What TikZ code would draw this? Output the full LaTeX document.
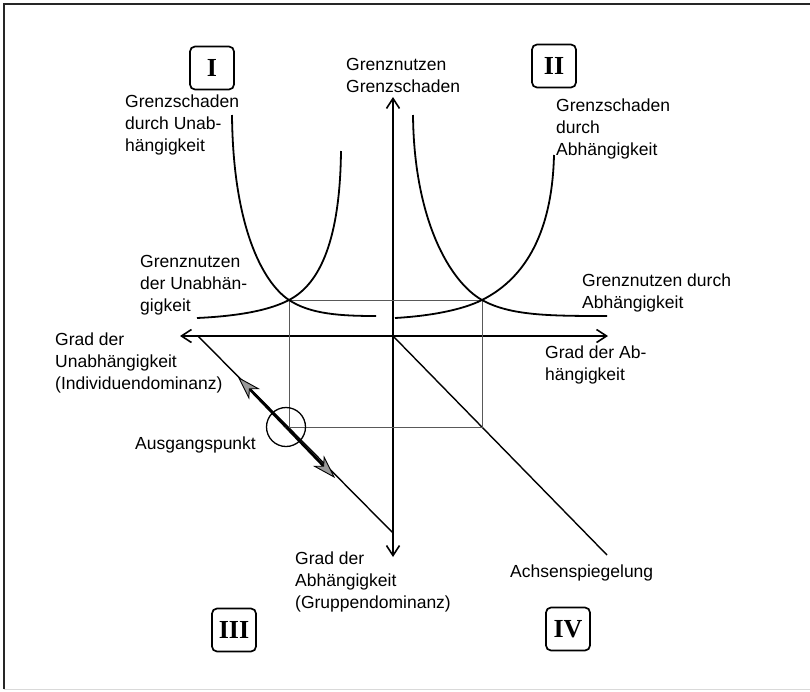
\documentclass[tikz,border=0pt]{standalone}
\usepackage{fontspec}
\setmainfont{Liberation Sans}
\newfontfamily\romfont{Liberation Serif}
\usetikzlibrary{arrows.meta}
\begin{document}
\begin{tikzpicture}[x=1pt,y=-1pt,
  lbl/.style={anchor=north west,inner sep=0pt,align=left,font=\fontsize{17.5}{21.8}\selectfont},
  quad/.style={draw,line width=1.7pt,rounded corners=5pt,minimum width=44pt,minimum height=43pt,inner sep=0pt,font=\romfont\bfseries\fontsize{26}{26}\selectfont},
  curve/.style={line width=1.8pt},
  axis/.style={line width=1.6pt,{Straight Barb[length=10pt,width=13pt]}-{Straight Barb[length=10pt,width=13pt]}},
  diag/.style={line width=1.4pt},
  guide/.style={line width=0.6pt,black!65},
  move/.style={line width=2.6pt,-{Stealth[length=24pt,width=15pt,inset=7pt,fill=black!40,line width=0.9pt]}},
  ring/.style={circle,draw,line width=1.3pt,minimum size=39pt,inner sep=0pt}
]
\useasboundingbox (0,0) rectangle (810,691);
% frame
\draw[line width=1.4pt,black!85] (4,689) -- (4,4) -- (810,4);
\draw[line width=1pt,black!15] (4,689) -- (810,689);

% axes
\coordinate (O) at (393,336);
\coordinate (XL) at (180,336);
\coordinate (XR) at (608,336);
\coordinate (YT) at (393,97);
\coordinate (YB) at (393,557);
\draw[axis] (XL) -- (XR);
\draw[axis] (YT) -- (YB);

% diagonals
\coordinate (DL1) at (198,336);
\coordinate (DL2) at (393,533);
\coordinate (DR2) at (607,555);
\draw[diag] (DL1) -- (DL2);
\draw[diag] (O) -- (DR2);

% guide rectangle
\coordinate (P1) at (289,300);
\coordinate (P2) at (482,300);
\coordinate (Q1) at (289,427);
\coordinate (Q2) at (482,427);
\draw[guide] (P1) -- (P2) -- (Q2) -- (Q1) -- cycle;

% curves quadrant I
\draw[curve] (232,115) .. controls (233,225) and (262,282) .. (P1)
             .. controls (310,314) and (340,316) .. (376,316);
\draw[curve] (197,318) .. controls (240,316) and (270,310) .. (P1)
             .. controls (320,284) and (340,240) .. (341,151);
% curves quadrant II
\draw[curve] (413,115) .. controls (414,220) and (450,282) .. (P2)
             .. controls (510,315.7) and (550,316) .. (607,316);
\draw[curve] (395,318) .. controls (430,316) and (462,310) .. (P2)
             .. controls (520,281) and (552,240) .. (554,155);

% starting point
\node[ring] (start) at (286,427) {};
\coordinate (TU) at (238,377);
\coordinate (TD) at (335,478);
\draw[move] (start.center) -- (TU);
\draw[move] (start.center) -- (TD);

% quadrant labels
\node[quad] (qI) at (212,68) {I};
\node[quad] (qII) at (554,66) {II};
\node[quad] (qIII) at (234,630) {III};
\node[quad] (qIV) at (568,629) {IV};

% texts
\node[lbl] (gsu) at (125,95) {Grenzschaden\\durch Unab-\\hängigkeit};
\node[lbl] (yl) at (346,58) {Grenznutzen\\Grenzschaden};
\node[lbl] (gsa) at (556,99) {Grenzschaden\\durch\\Abhängigkeit};
\node[lbl] (gnu) at (140,255) {Grenznutzen\\der Unabhän-\\gigkeit};
\node[lbl] (gna) at (582,274) {Grenznutzen durch\\Abhängigkeit};
\node[lbl] (gdu) at (55,333) {Grad der\\Unabhängigkeit\\(Individuendominanz)};
\node[lbl] (aus) at (135,437) {Ausgangspunkt};
\node[lbl] (gda) at (545,346) {Grad der Ab-\\hängigkeit};
\node[lbl] (gdg) at (295,552) {Grad der\\Abhängigkeit\\(Gruppendominanz)};
\node[lbl] (achs) at (510,565) {Achsenspiegelung};
\end{tikzpicture}
\end{document}
